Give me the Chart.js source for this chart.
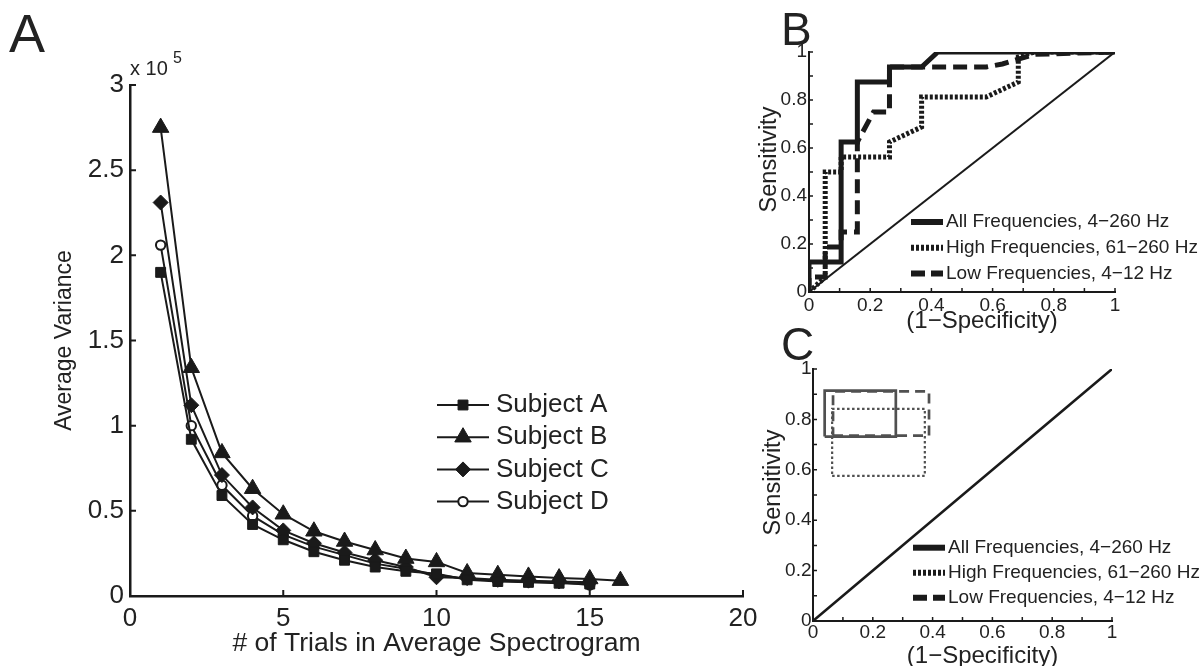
<!DOCTYPE html>
<html><head><meta charset="utf-8">
<script src="https://cdn.jsdelivr.net/npm/chart.js@4.4.1/dist/chart.umd.min.js"></script>
<style>
html,body{margin:0;padding:0;background:#fff;}
#wrap{position:relative;width:1203px;height:666px;overflow:hidden;background:#fff;}
canvas{position:absolute;left:0;top:0;}
</style></head><body>
<div id="wrap">
<canvas id="cA" width="1203" height="666"></canvas>
<canvas id="cB" width="1203" height="666"></canvas>
<canvas id="cC" width="1203" height="666"></canvas>
</div>
<script>
// ================= DATA =================
// Panel A: average variance vs number of trials
const trialsACD = [1,2,3,4,5,6,7,8,9,10,11,12,13,14,15];
const trialsB   = [1,2,3,4,5,6,7,8,9,10,11,12,13,14,15,16];
const varSubjectA = [190000, 92000, 59000, 42000, 33000, 26000, 21000, 17000, 14500, 13000, 9500, 8500, 8000, 7500, 7000];
const varSubjectB = [275000, 134000, 84000, 63000, 48000, 38000, 32000, 27000, 22000, 20000, 13500, 12500, 11500, 10500, 10000, 9000];
const varSubjectC = [231000, 112000, 71000, 52000, 38500, 31000, 25500, 21000, 17000, 11000, 10500, 9500, 9000, 8500, 8000];
const varSubjectD = [206000, 100000, 65000, 47000, 36000, 29000, 24000, 19000, 16000, 12500, 10000, 9000, 8500, 8000, 6500];
const trialTicks = [0, 5, 10, 15, 20];
const varianceTicks = [0, 50000, 100000, 150000, 200000, 250000, 300000];

// Panel B: ROC curves (1-specificity, sensitivity)
const rocAllSpec  = [0, 0, 0.105, 0.105, 0.158, 0.158, 0.263, 0.263, 0.368, 0.421, 1];
const rocAllSens  = [0, 0.125, 0.125, 0.625, 0.625, 0.875, 0.875, 0.9375, 0.9375, 1, 1];
const rocHighSpec = [0, 0.053, 0.053, 0.105, 0.105, 0.263, 0.263, 0.368, 0.368, 0.579, 0.684, 0.684, 0.737, 1];
const rocHighSens = [0, 0.0625, 0.5, 0.5, 0.5625, 0.5625, 0.625, 0.6875, 0.8125, 0.8125, 0.875, 0.98, 1, 1];
const rocLowSpec  = [0, 0, 0.053, 0.053, 0.105, 0.105, 0.158, 0.158, 0.211, 0.263, 0.263, 0.579, 0.632, 0.684, 0.737, 1];
const rocLowSens  = [0, 0.0625, 0.0625, 0.1875, 0.1875, 0.25, 0.25, 0.625, 0.75, 0.75, 0.9375, 0.9375, 0.95, 0.97, 0.99, 1];
const chanceSpec = [0, 1];
const chanceSens = [0, 1];

// Panel C: ranges of (1-specificity) and sensitivity
const boxAllSpec  = [0.039, 0.277];
const boxAllSens  = [0.732, 0.914];
const boxHighSpec = [0.064, 0.374];
const boxHighSens = [0.576, 0.842];
const boxLowSpec  = [0.067, 0.388];
const boxLowSens  = [0.736, 0.911];

const rocMajorTicks = [0, 0.2, 0.4, 0.6, 0.8, 1];
const rocMinorTicks = [0.1, 0.3, 0.5, 0.7, 0.9];
const legendLabelsROC = ['All Frequencies, 4\u2212260 Hz', 'High Frequencies, 61\u2212260 Hz', 'Low Frequencies, 4\u221212 Hz'];
const subjectLabels = ['Subject A', 'Subject B', 'Subject C', 'Subject D'];

// ================= HELPERS =================
const FONT = "'Liberation Sans', Arial, Helvetica, sans-serif";
const INK = '#1a1a1a';
const TXT = '#222';
Chart.defaults.font.family = FONT;
Chart.defaults.color = TXT;
Chart.defaults.animation = false;

const pts = (xs, ys) => xs.map((x, i) => ({x: x, y: ys[i]}));
const boxPts = (sx, sy) => [
  {x: sx[0], y: sy[0]}, {x: sx[1], y: sy[0]}, {x: sx[1], y: sy[1]}, {x: sx[0], y: sy[1]}, {x: sx[0], y: sy[0]}
];
const fmt = v => String(Math.round(v * 1000) / 1000);

function drawMarker(ctx, style, x, y, r, fill, stroke, bw) {
  ctx.beginPath();
  if (style === 'rect') { const s = r * Math.SQRT1_2; ctx.rect(x - s, y - s, 2 * s, 2 * s); }
  else if (style === 'triangle') {
    for (let k = 0; k < 3; k++) { const a = k * 2 * Math.PI / 3; const px = x + Math.sin(a) * r, py = y - Math.cos(a) * r; if (k) ctx.lineTo(px, py); else ctx.moveTo(px, py); }
    ctx.closePath();
  } else if (style === 'rectRot') { ctx.moveTo(x, y - r); ctx.lineTo(x + r, y); ctx.lineTo(x, y + r); ctx.lineTo(x - r, y); ctx.closePath(); }
  else { ctx.arc(x, y, r, 0, 2 * Math.PI); }
  ctx.fillStyle = fill; ctx.fill();
  ctx.lineWidth = bw; ctx.strokeStyle = stroke; ctx.stroke();
}

function inwardTicks(chart, len, width) {
  const ctx = chart.ctx, a = chart.chartArea, sx = chart.scales.x, sy = chart.scales.y;
  ctx.save();
  ctx.strokeStyle = INK; ctx.lineWidth = width; ctx.setLineDash([]);
  ctx.beginPath();
  sx.ticks.forEach(t => { const p = sx.getPixelForValue(t.value); ctx.moveTo(p, a.bottom); ctx.lineTo(p, a.bottom - len); });
  sy.ticks.forEach(t => { const p = sy.getPixelForValue(t.value); ctx.moveTo(a.left, p); ctx.lineTo(a.left + len, p); });
  ctx.stroke();
  ctx.restore();
}

function rocScale(width, height, pad, axis) {
  return {
    type: 'linear', min: 0, max: 1,
    afterBuildTicks: s => { s.ticks = rocMajorTicks.concat(rocMinorTicks).sort((a, b) => a - b).map(v => ({value: v})); },
    grid: {display: false, drawTicks: false},
    border: {display: true, color: INK, width: 2},
    ticks: {padding: pad, font: {size: 19}, color: TXT, autoSkip: false, maxRotation: 0,
      callback: v => rocMajorTicks.some(m => Math.abs(m - v) < 1e-6) ? fmt(v) : ''},
    afterFit: s => { if (axis === 'y') s.width = width; else s.height = height; }
  };
}

function rocTexts(chart, letter, cfg) {
  const ctx = chart.ctx, a = chart.chartArea;
  ctx.save();
  ctx.fillStyle = TXT;
  ctx.font = '46px ' + FONT; ctx.textAlign = 'left'; ctx.textBaseline = 'alphabetic';
  ctx.fillText(letter, cfg.letterX, cfg.letterY);
  ctx.font = '24px ' + FONT; ctx.textAlign = 'center';
  ctx.fillText('(1\u2212Specificity)', (a.left + a.right) / 2 + 20, cfg.xTitleY);
  ctx.save();
  ctx.translate(a.left - cfg.yTitleGap, (a.top + a.bottom) / 2 - 12.5);
  ctx.rotate(-Math.PI / 2);
  ctx.font = '23.5px ' + FONT; ctx.textAlign = 'center'; ctx.textBaseline = 'alphabetic';
  ctx.fillText('Sensitivity', 0, 0);
  ctx.restore();
  // legend
  const styles = [{dash: [], w: 6}, {dash: [3, 2], w: 6}, {dash: [14, 6], w: 6}];
  ctx.font = '19px ' + FONT; ctx.textAlign = 'left'; ctx.textBaseline = 'middle';
  legendLabelsROC.forEach((lab, i) => {
    const y = cfg.legendY0 + i * cfg.legendDy;
    ctx.beginPath(); ctx.setLineDash(styles[i].dash); ctx.lineWidth = styles[i].w; ctx.strokeStyle = INK; ctx.lineCap = 'butt';
    ctx.moveTo(cfg.legendX0, y); ctx.lineTo(cfg.legendX0 + 32, y); ctx.stroke();
    ctx.setLineDash([]);
    ctx.fillStyle = TXT; ctx.fillText(lab, cfg.legendX0 + 35, y);
  });
  ctx.restore();
}

// ================= PANEL A =================
new Chart(document.getElementById('cA'), {
  type: 'scatter',
  data: {
    datasets: [
      {label: subjectLabels[0], data: pts(trialsACD, varSubjectA), showLine: true, borderColor: INK, borderWidth: 2,
       pointStyle: 'rect', pointRadius: 7, pointBackgroundColor: INK, pointBorderColor: INK, pointBorderWidth: 1},
      {label: subjectLabels[1], data: pts(trialsB, varSubjectB), showLine: true, borderColor: INK, borderWidth: 2,
       pointStyle: 'triangle', pointRadius: 9.5, pointBackgroundColor: INK, pointBorderColor: INK, pointBorderWidth: 1},
      {label: subjectLabels[2], data: pts(trialsACD, varSubjectC), showLine: true, borderColor: INK, borderWidth: 2,
       pointStyle: 'rectRot', pointRadius: 7.5, pointBackgroundColor: INK, pointBorderColor: INK, pointBorderWidth: 1},
      {label: subjectLabels[3], data: pts(trialsACD, varSubjectD), showLine: true, borderColor: INK, borderWidth: 2,
       pointStyle: 'circle', pointRadius: 4.7, pointBackgroundColor: '#fff', pointBorderColor: INK, pointBorderWidth: 2}
    ]
  },
  options: {
    responsive: false, devicePixelRatio: 1, animation: false,
    layout: {padding: {left: 0, right: 460, top: 85, bottom: 0}},
    plugins: {legend: {display: false}, tooltip: {enabled: false}},
    scales: {
      x: {type: 'linear', min: 0, max: 20,
        afterBuildTicks: s => { s.ticks = trialTicks.map(v => ({value: v})); },
        grid: {display: false, drawTicks: false},
        border: {display: true, color: INK, width: 2.5},
        ticks: {padding: 7, font: {size: 26}, color: TXT, autoSkip: false, maxRotation: 0, callback: v => String(v)},
        title: {display: true, text: '# of Trials in Average Spectrogram', font: {size: 26.5}, color: TXT, padding: {top: 0, bottom: 6}},
        afterFit: s => { s.height = 70; }
      },
      y: {type: 'linear', min: 0, max: 300000,
        afterBuildTicks: s => { s.ticks = varianceTicks.map(v => ({value: v})); },
        grid: {display: false, drawTicks: false},
        border: {display: true, color: INK, width: 2.5},
        ticks: {padding: 6, font: {size: 26}, color: TXT, autoSkip: false, callback: v => fmt(v / 1e5)},
        title: {display: true, text: 'Average Variance', font: {size: 23}, color: TXT, padding: {top: 51, bottom: 0}},
        afterFit: s => { s.width = 130; }
      }
    }
  },
  plugins: [{
    id: 'panelA',
    afterDraw(chart) {
      inwardTicks(chart, 6, 2);
      const ctx = chart.ctx, a = chart.chartArea;
      ctx.save();
      ctx.fillStyle = TXT; ctx.textBaseline = 'alphabetic'; ctx.textAlign = 'left';
      ctx.font = '54px ' + FONT; ctx.fillText('A', 9, 52);
      ctx.font = '20px ' + FONT; ctx.fillText('x 10', a.left, 75);
      ctx.font = '16px ' + FONT; ctx.fillText('5', a.left + 43, 63);
      // legend
      ctx.font = '26px ' + FONT; ctx.textBaseline = 'middle';
      chart.data.datasets.forEach((ds, i) => {
        const y = 405 + i * 32.2;
        ctx.beginPath(); ctx.lineWidth = 2; ctx.strokeStyle = INK; ctx.setLineDash([]);
        ctx.moveTo(437, y); ctx.lineTo(489, y); ctx.stroke();
        drawMarker(ctx, ds.pointStyle, 463, y, ds.pointRadius, ds.pointBackgroundColor, ds.pointBorderColor, ds.pointBorderWidth);
        ctx.fillStyle = TXT; ctx.fillText(ds.label, 496, y);
      });
      ctx.restore();
    }
  }]
});

// ================= PANEL B =================
new Chart(document.getElementById('cB'), {
  type: 'scatter',
  data: {
    datasets: [
      {label: legendLabelsROC[0], data: pts(rocAllSpec, rocAllSens), showLine: true, borderColor: INK, borderWidth: 5, pointRadius: 0, tension: 0},
      {label: legendLabelsROC[2], data: pts(rocLowSpec, rocLowSens), showLine: true, borderColor: INK, borderWidth: 5, borderDash: [14, 7], pointRadius: 0, tension: 0},
      {label: legendLabelsROC[1], data: pts(rocHighSpec, rocHighSens), showLine: true, borderColor: INK, borderWidth: 5, borderDash: [3, 2], pointRadius: 0, tension: 0},
      {label: 'chance', data: pts(chanceSpec, chanceSens), showLine: true, borderColor: INK, borderWidth: 2, pointRadius: 0}
    ]
  },
  options: {
    responsive: false, devicePixelRatio: 1, animation: false,
    layout: {padding: {left: 740, right: 88, top: 52, bottom: 334}},
    plugins: {legend: {display: false}, tooltip: {enabled: false}},
    scales: {x: rocScale(0, 40, 2, 'x'), y: rocScale(69, 0, 2, 'y')}
  },
  plugins: [{
    id: 'panelB',
    afterDraw(chart) {
      inwardTicks(chart, 4, 1.5);
      rocTexts(chart, 'B', {letterX: 781, letterY: 45, xTitleY: 328, yTitleGap: 33, legendX0: 911, legendY0: 222, legendDy: 25.7});
    }
  }]
});

// ================= PANEL C =================
new Chart(document.getElementById('cC'), {
  type: 'scatter',
  data: {
    datasets: [
      {label: legendLabelsROC[0], data: boxPts(boxAllSpec, boxAllSens), showLine: true, borderColor: '#505050', borderWidth: 2.7, pointRadius: 0},
      {label: legendLabelsROC[2], data: boxPts(boxLowSpec, boxLowSens), showLine: true, borderColor: '#505050', borderWidth: 2.7, borderDash: [10, 6], pointRadius: 0},
      {label: legendLabelsROC[1], data: boxPts(boxHighSpec, boxHighSens), showLine: true, borderColor: '#505050', borderWidth: 2.2, borderDash: [2.5, 2.5], pointRadius: 0},
      {label: 'chance', data: pts(chanceSpec, chanceSens), showLine: true, borderColor: INK, borderWidth: 2.5, pointRadius: 0}
    ]
  },
  options: {
    responsive: false, devicePixelRatio: 1, animation: false,
    layout: {padding: {left: 740, right: 91, top: 369, bottom: 5}},
    plugins: {legend: {display: false}, tooltip: {enabled: false}},
    scales: {x: rocScale(0, 40, 0, 'x'), y: rocScale(73, 0, 1.5, 'y')}
  },
  plugins: [{
    id: 'panelC',
    afterDraw(chart) {
      inwardTicks(chart, 4, 1.5);
      rocTexts(chart, 'C', {letterX: 781, letterY: 360, xTitleY: 663, yTitleGap: 33, legendX0: 913, legendY0: 547.7, legendDy: 25});
    }
  }]
});
</script>
</body></html>
